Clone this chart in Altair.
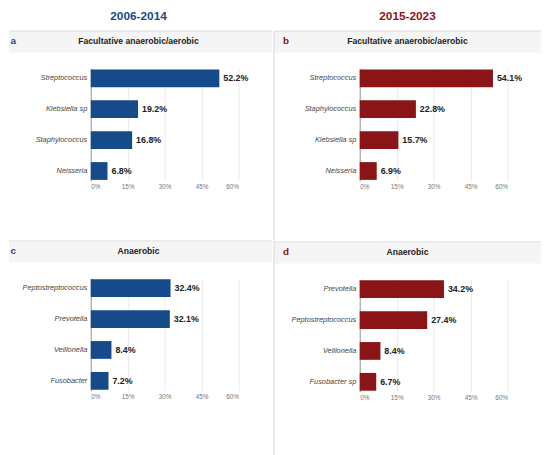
import altair as alt
import pandas as pd

# ---- data ----
cats_a = ["Streptococcus", "Klebsiella sp", "Staphylococcus", "Neisseria"]
vals_a = [52.2, 19.2, 16.8, 6.8]
cats_b = ["Streptococcus", "Staphylococcus", "Klebsiella sp", "Neisseria"]
vals_b = [54.1, 22.8, 15.7, 6.9]
cats_c = ["Peptostreptococcus", "Prevotella", "Veillonella", "Fusobacter"]
vals_c = [32.4, 32.1, 8.4, 7.2]
cats_d = ["Prevotella", "Peptostreptococcus", "Veillonella", "Fusobacter sp"]
vals_d = [34.2, 27.4, 8.4, 6.7]

period_titles = ["2006-2014", "2015-2023"]
group_titles = ["Facultative anaerobic/aerobic", "Anaerobic"]
letters = ["a", "b", "c", "d"]
ticks = [0, 15, 30, 45, 60]

BLUE = "#174a8b"
RED = "#8b1418"
FONT = "Liberation Sans"

one = pd.DataFrame({"k": [0]})


def panel(cats, vals, color, letter, title, coltitle, upper, left):
    df = pd.DataFrame({"name": cats, "value": vals})
    df["label"] = [f"{v:.1f}%" for v in vals]

    x0 = -83 if left else -87
    x1 = 184
    top = -61 if upper else -38
    bottom = 174 if upper else 180

    x_enc = alt.X(
        "value:Q",
        scale=alt.Scale(domain=[0, 60], nice=False),
        axis=alt.Axis(
            values=ticks,
            tickCount=5,
            labelExpr="datum.value + '%'",
            labelOverlap=False,
            grid=True,
            gridColor="#ebebeb",
            domain=False,
            ticks=False,
            labelFontSize=6.5,
            labelColor="#777777",
            labelPadding=3,
            title=None,
        ),
    )
    y_enc = alt.Y(
        "name:N",
        sort=cats,
        scale=alt.Scale(paddingInner=0.425, paddingOuter=0.03),
        axis=alt.Axis(
            title=None,
            ticks=False,
            domainColor="#999999",
            labelFontStyle="italic",
            labelFontSize=7.5,
            labelColor="#444444",
            labelPadding=4,
            labelLimit=200,
        ),
    )

    layers = []
    # invisible cell to fix the panel bounds
    layers.append(
        alt.Chart(one).mark_rect(opacity=0).encode(
            x=alt.value(x0), x2=alt.value(x1), y=alt.value(top), y2=alt.value(bottom)
        )
    )
    # header band
    layers.append(
        alt.Chart(one).mark_rect(fill="#f5f5f5").encode(
            x=alt.value(x0), x2=alt.value(x1), y=alt.value(-38), y2=alt.value(-16)
        )
    )
    layers.append(
        alt.Chart(one).mark_rule(color="#dddddd", strokeWidth=1).encode(
            x=alt.value(x0), x2=alt.value(x1), y=alt.value(-38)
        )
    )
    if not left:
        layers.append(
            alt.Chart(one).mark_rule(color="#d4d4d4", strokeWidth=1).encode(
                x=alt.value(-87), y=alt.value(-38), y2=alt.value(bottom)
            )
        )
    layers.append(
        alt.Chart(one).mark_text(
            align="left", baseline="alphabetic", fontSize=10, fontWeight="bold", color=color
        ).encode(x=alt.value(-81.5 if left else -78), y=alt.value(-24.5), text=alt.value(letter))
    )
    layers.append(
        alt.Chart(one).mark_text(
            align="center", baseline="alphabetic", fontSize=8.7, fontWeight="bold", color="#222222"
        ).encode(x=alt.value(48.5), y=alt.value(-25), text=alt.value(title))
    )
    if coltitle:
        layers.append(
            alt.Chart(one).mark_text(
                align="center", baseline="alphabetic", fontSize=12, fontWeight="bold", color=color
            ).encode(x=alt.value(48.5), y=alt.value(-49), text=alt.value(coltitle))
        )

    base = alt.Chart(df)
    bars = base.mark_bar(color=color).encode(x=x_enc, y=y_enc)
    labels = base.mark_text(
        align="left", baseline="middle", dx=4, fontSize=9, fontWeight="bold", color="#222222"
    ).encode(x=x_enc, y=y_enc, text="label:N")

    layers += [bars, labels]
    return alt.layer(*layers).properties(width=150, height=114)


pa = panel(cats_a, vals_a, BLUE, letters[0], group_titles[0], period_titles[0], True, True)
pb = panel(cats_b, vals_b, RED, letters[1], group_titles[0], period_titles[1], True, False)
pc = panel(cats_c, vals_c, BLUE, letters[2], group_titles[1], None, False, True)
pd_ = panel(cats_d, vals_d, RED, letters[3], group_titles[1], None, False, False)

chart = (
    alt.hconcat(
        alt.vconcat(pa, pc, spacing=0),
        alt.vconcat(pb, pd_, spacing=0),
        spacing=0,
    )
    .properties(padding={"left": 0, "top": -3, "right": 0, "bottom": 0})
    .configure(font=FONT)
    .configure_view(strokeWidth=0)
)

chart.save("out.html", embed_options={"renderer": "svg", "actions": False})
